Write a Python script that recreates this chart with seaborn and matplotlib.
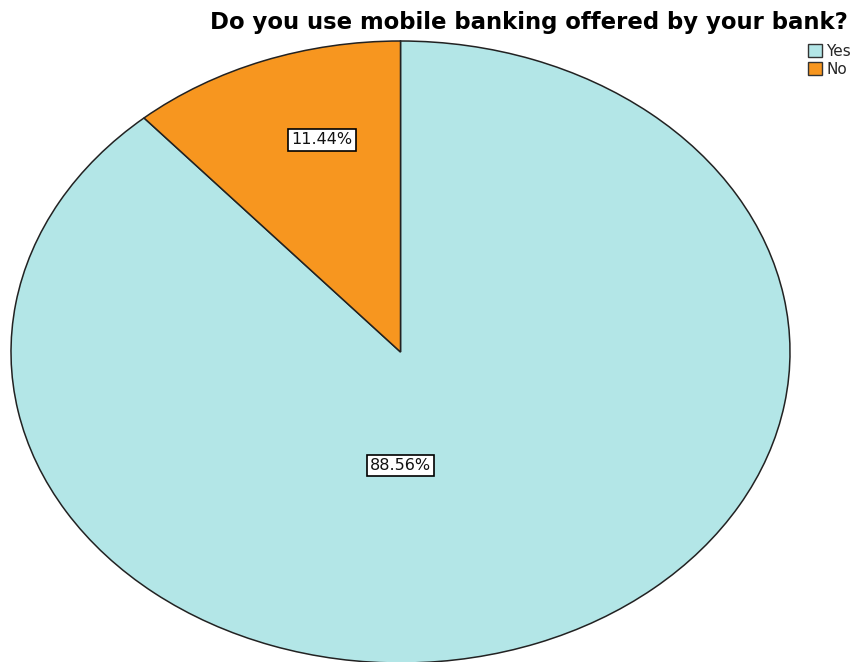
import matplotlib
matplotlib.use("Agg")
import matplotlib.pyplot as plt
import seaborn as sns
from matplotlib.patches import Patch

sns.set_theme(style="white")
plt.rcParams['font.family'] = ['DejaVu Sans']

# Survey answers and their shares (%)
categories = ["Yes", "No"]
shares = [88.56, 11.44]
colors = ["#b3e6e7", "#f7961f"]
title = "Do you use mobile banking offered by your bank?"

W, H = 851, 662
fig = plt.figure(figsize=(W / 100, H / 100), dpi=100)
fig.patch.set_facecolor("white")

# Axes spanning the ellipse bounding box (pixels: x 11..790, y 41..663)
left, right, top, bottom = 11, 790, 41, 663
ax = fig.add_axes([left / W, (H - bottom) / H, (right - left) / W, (bottom - top) / H])

wedges, _ = ax.pie(
    shares,
    colors=colors,
    startangle=90,
    counterclock=False,
    radius=1.0,
    wedgeprops=dict(edgecolor="#222222", linewidth=1.1),
)
ax.set_aspect("auto")
ax.set_xlim(-1, 1)
ax.set_ylim(-1, 1)
ax.axis("off")
for w in wedges:
    w.set_clip_on(False)

# Percentage labels in boxed text
label_pos = {"Yes": (0.0, -0.364), "No": (-0.202, 0.682)}
for cat, val in zip(categories, shares):
    x, y = label_pos[cat]
    ax.text(x, y, f"{val:.2f}%", ha="center", va="center", fontsize=11.5,
            color="#111111",
            bbox=dict(boxstyle="square,pad=0.2", facecolor="white",
                      edgecolor="black", linewidth=1.2))

fig.text(848 / W, 1 - 22 / H, title, ha="right", va="center",
         fontsize=16.4, fontweight="bold", color="black")

handles = [Patch(facecolor=c, edgecolor="#333333", linewidth=1.0, label=k)
           for k, c in zip(categories, colors)]
fig.legend(handles=handles, loc="upper right", bbox_to_anchor=(854 / W, 1 - 41 / H),
           frameon=False, fontsize=11, handlelength=0.9, handleheight=0.9,
           handletextpad=0.3, labelspacing=0.2, borderaxespad=0, borderpad=0.2)

fig.savefig("out.png", dpi=100, facecolor="white")
